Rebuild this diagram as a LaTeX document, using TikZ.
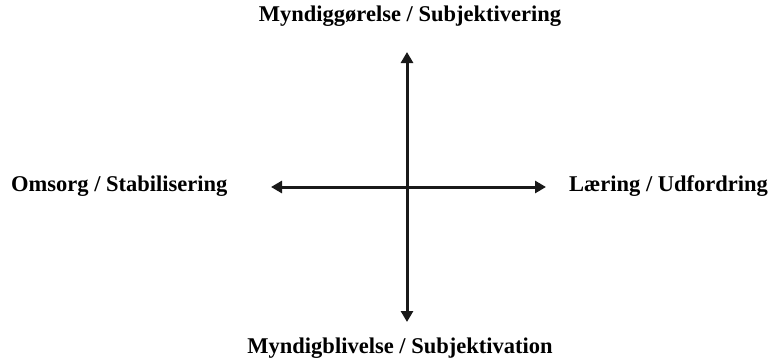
\documentclass[tikz,border=0pt]{standalone}
\usepackage{fontspec}
\setmainfont{Liberation Serif}
\usetikzlibrary{arrows.meta,positioning}

\begin{document}
\begin{tikzpicture}[
  x=1pt,y=-1pt,
  pole/.style={font=\bfseries\fontsize{22.5}{26}\selectfont,inner sep=0pt},
  axis/.style={{Triangle[length=11pt,width=12pt]}-{Triangle[length=11pt,width=12pt]},line width=3pt,black!90}
]
\useasboundingbox (0,0) rectangle (770,361);
\coordinate (c) at (407,187);
\coordinate (top) at (407,52);
\coordinate (bot) at (407,322);
\coordinate (lft) at (271,187);
\coordinate (rgt) at (546,187);
\node[pole] (n0) at (410,16) {Myndiggørelse / Subjektivering};
\node[pole] (n1) at (400,348) {Myndigblivelse / Subjektivation};
\node[pole,anchor=west] (n2) at (11,186) {Omsorg / Stabilisering};
\node[pole,anchor=west] (n3) at (569,186) {Læring / Udfordring};
\draw[axis] (top) -- (bot);
\draw[axis] (lft) -- (rgt);
\end{tikzpicture}
\end{document}
